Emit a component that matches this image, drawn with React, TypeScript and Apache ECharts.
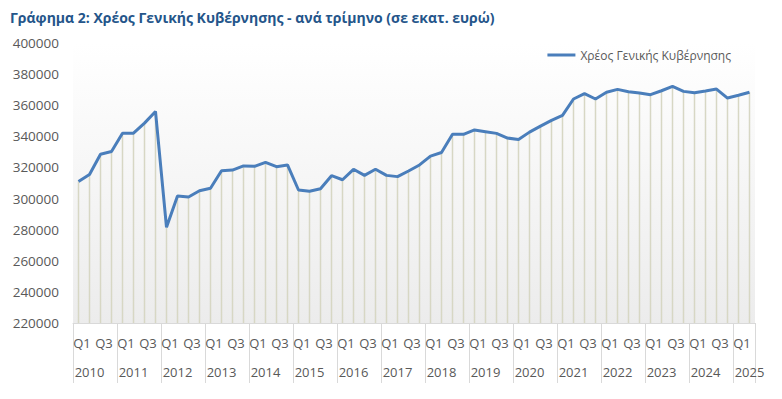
import React, { useEffect, useRef } from "react";
import * as echarts from "echarts";

const years = ["2010", "2011", "2012", "2013", "2014", "2015", "2016", "2017", "2018", "2019", "2020", "2021", "2022", "2023", "2024", "2025"];
const quarters = ["Q1", "Q2", "Q3", "Q4"];
const seriesName = "Χρέος Γενικής Κυβέρνησης";
const titleText = "Γράφημα 2: Χρέος Γενικής Κυβέρνησης - ανά τρίμηνο (σε εκατ. ευρώ)";

// Quarterly values, 2010 Q1 – 2025 Q2 (million euro)
const debt = [
  311000, 315500, 328500, 330200,
  342000, 342000, 348500, 356000,
  281500, 301600, 301000, 305000,
  306600, 317900, 318300, 321000,
  320700, 323300, 320500, 321600,
  305500, 304700, 306300, 314700,
  312100, 318800, 314900, 318800,
  314900, 314100, 317700, 321600,
  327300, 329600, 341300, 341300,
  344100, 343000, 341900, 338900,
  337900, 342700, 346600, 350300,
  353500, 364000, 367400, 364000,
  368300, 370200, 368700, 367900,
  366800, 369300, 372100, 368900,
  368000, 369100, 370400, 364600,
  366400, 368300,
];

const yMin = 220000;
const yMax = 400000;
const yStep = 20000;

const categories = debt.map((_, i) => `${years[Math.floor(i / 4)]} ${quarters[i % 4]}`);

export default function App() {
  const ref = useRef<HTMLDivElement>(null);

  useEffect(() => {
    if (!ref.current) return;
    const chart = echarts.init(ref.current, undefined, { renderer: "svg" });
    const font = "'Open Sans', 'Noto Sans', sans-serif";
    chart.setOption({
      animation: false,
      title: {
        text: titleText,
        left: 5,
        top: 5,
        textStyle: { fontFamily: font, fontSize: 14, fontWeight: "bold", color: "#24558a" },
      },
      legend: {
        data: [seriesName],
        right: 46,
        top: 44,
        icon: "rect",
        itemWidth: 28,
        itemHeight: 3,
        itemGap: 6,
        textStyle: { fontFamily: font, fontSize: 12, color: "#595959" },
      },
      grid: {
        left: 73,
        right: 27,
        top: 43,
        bottom: 76,
        show: true,
        borderWidth: 0,
        backgroundColor: new echarts.graphic.LinearGradient(0, 0, 0, 1, [
          { offset: 0, color: "#ffffff" },
          { offset: 1, color: "#ececec" },
        ]),
      },
      xAxis: [
        {
          type: "category",
          data: categories,
          boundaryGap: true,
          axisLine: { show: true, lineStyle: { color: "#d9d9d9", width: 1 } },
          axisTick: {
            show: true,
            interval: (index: number) => index % 4 === 0,
            length: 60,
            lineStyle: { color: "#d9d9d9", width: 1 },
          },
          axisLabel: {
            interval: 1,
            margin: 13,
            formatter: (v: string) => v.split(" ")[1],
            fontFamily: font,
            fontSize: 13,
            color: "#595959",
            padding: [0, 0, 0, 7],
          },
        },
        {
          type: "category",
          data: categories,
          position: "bottom",
          offset: 29,
          boundaryGap: true,
          axisLine: { show: false },
          axisTick: { show: false },
          axisLabel: {
            interval: (index: number) => index % 4 === 1,
            margin: 13,
            formatter: (v: string) => v.split(" ")[0],
            fontFamily: font,
            fontSize: 13,
            color: "#595959",
          },
        },
      ],
      yAxis: {
        type: "value",
        min: yMin,
        max: yMax,
        interval: yStep,
        axisLine: { show: false },
        axisTick: { show: false },
        splitLine: { show: false },
        axisLabel: {
          margin: 14,
          fontFamily: font,
          fontSize: 13.5,
          color: "#595959",
          formatter: (v: number) => String(v),
        },
      },
      series: [
        {
          type: "bar",
          name: "drop",
          data: debt,
          barWidth: 1.5,
          itemStyle: { color: "#d7d7c4" },
          silent: true,
        },
        {
          type: "line",
          name: seriesName,
          data: debt,
          showSymbol: false,
          symbol: "none",
          lineStyle: { color: "#4a7ebb", width: 3 },
          itemStyle: { color: "#4a7ebb" },
        },
      ],
    });
    return () => chart.dispose();
  }, []);

  return <div ref={ref} style={{ position: "fixed", left: 0, top: 0, width: 782, height: 399, background: "#fff" }} />;
}
